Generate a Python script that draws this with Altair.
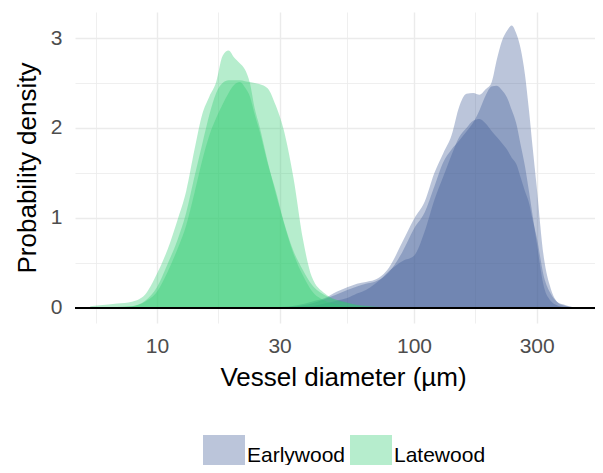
import altair as alt
import pandas as pd

# ---- Latewood densities (x in µm, density on log10 scale) ----
late_x = [5.5, 6, 7, 8, 9, 10, 11, 12, 13, 14, 15, 16, 17, 18, 19, 20, 21, 22, 23, 24, 25,
          27, 29, 31, 34, 37, 40, 45, 50, 55, 60, 70, 80]
late_1 = [0.02, 0.03, 0.05, 0.07, 0.15, 0.38, 0.65, 0.97, 1.30, 1.76, 2.15, 2.35, 2.51, 2.80, 2.86,
          2.78, 2.72, 2.65, 2.50, 2.22, 2.03, 1.62, 1.27, 0.97, 0.60, 0.36, 0.19, 0.08, 0.04, 0.02,
          0.01, 0.0, 0.0]
late_2 = [0.0, 0.005, 0.01, 0.02, 0.08, 0.23, 0.49, 0.75, 1.06, 1.46, 1.82, 2.15, 2.39, 2.50, 2.53,
          2.53, 2.53, 2.52, 2.51, 2.50, 2.49, 2.44, 2.25, 2.00, 1.44, 0.76, 0.35, 0.16, 0.09, 0.06,
          0.03, 0.01, 0.0]
late_3 = [0.0, 0.005, 0.01, 0.02, 0.07, 0.18, 0.40, 0.65, 0.92, 1.28, 1.64, 1.92, 2.11, 2.26, 2.39,
          2.48, 2.51, 2.45, 2.35, 2.15, 1.98, 1.60, 1.30, 0.98, 0.63, 0.42, 0.26, 0.14, 0.085, 0.055,
          0.035, 0.015, 0.0]

# ---- Earlywood densities ----
early_x = [30, 35, 40, 45, 50, 55, 60, 65, 70, 75, 80, 90, 100, 110, 120, 130, 140, 150, 160, 170,
           180, 190, 200, 210, 220, 230, 240, 250, 260, 270, 280, 290, 300, 320, 340, 360, 380, 400, 450]
early_1 = [0.01, 0.03, 0.07, 0.11, 0.18, 0.23, 0.27, 0.29, 0.31, 0.36, 0.45, 0.73, 0.99, 1.18, 1.50,
           1.72, 1.92, 2.24, 2.38, 2.39, 2.37, 2.43, 2.50, 2.76, 2.97, 3.08, 3.14, 3.05, 2.88, 2.60,
           2.20, 1.76, 1.35, 0.56, 0.22, 0.07, 0.03, 0.015, 0.0]
early_2 = [0.005, 0.02, 0.05, 0.10, 0.15, 0.20, 0.24, 0.27, 0.29, 0.33, 0.40, 0.62, 0.88, 1.06, 1.35,
           1.62, 1.76, 1.86, 1.96, 2.06, 2.20, 2.36, 2.46, 2.47, 2.42, 2.34, 2.20, 2.05, 1.81, 1.58,
           1.30, 1.01, 0.73, 0.24, 0.08, 0.03, 0.01, 0.0, 0.0]
early_3 = [0.0, 0.01, 0.02, 0.05, 0.08, 0.11, 0.16, 0.20, 0.26, 0.33, 0.41, 0.52, 0.58, 0.85, 1.20,
           1.46, 1.70, 1.90, 2.00, 2.08, 2.10, 2.05, 1.97, 1.90, 1.83, 1.76, 1.67, 1.60, 1.45, 1.30,
           1.17, 0.97, 0.79, 0.35, 0.16, 0.07, 0.04, 0.02, 0.0]

groups = ["Earlywood", "Latewood"]
colors = ["#3C5A96", "#2ECC71"]

x_major = [10, 30, 100, 300]
x_minor = [5.77, 17.3, 54.8, 173.2]
y_major = [0, 1, 2, 3]
y_minor = [0.5, 1.5, 2.5]

series = [
    ("E1", "Earlywood", early_x, early_1),
    ("E2", "Earlywood", early_x, early_2),
    ("E3", "Earlywood", early_x, early_3),
    ("L1", "Latewood", late_x, late_1),
    ("L2", "Latewood", late_x, late_2),
    ("L3", "Latewood", late_x, late_3),
]
rows = []
for cid, grp, xs, ys in series:
    for xv, yv in zip(xs, ys):
        rows.append({"curve": cid, "group": grp, "d": xv, "density": yv})
df = pd.DataFrame(rows)

W, H = 520, 311
x_scale = alt.Scale(type="log", domain=[4.80, 506], nice=False)
y_scale = alt.Scale(domain=[-0.167, 3.289], nice=False, zero=False)

xmaj = "[" + ",".join(str(v) for v in x_major) + "]"
ymaj = "[" + ",".join(str(v) for v in y_major) + "]"

x_axis = alt.Axis(
    values=sorted(x_major + x_minor),
    labelExpr=f"indexof({xmaj}, datum.value) >= 0 ? format(datum.value, 'd') : ''",
    gridWidth={"condition": {"test": f"indexof({xmaj}, datum.value) >= 0", "value": 1.4}, "value": 0.8},
    labelPadding=12,
    titleY=62,
    titleX=268,
    titleBaseline="alphabetic",
)
y_axis = alt.Axis(
    values=sorted(y_major + y_minor),
    labelExpr=f"indexof({ymaj}, datum.value) >= 0 ? format(datum.value, 'd') : ''",
    gridWidth={"condition": {"test": f"indexof({ymaj}, datum.value) >= 0", "value": 1.4}, "value": 0.8},
    labelPadding=13,
    titleX=-40,
    titleBaseline="alphabetic",
)

areas = alt.Chart(df).mark_area(opacity=0.35, interpolate="monotone", clip=True).encode(
    x=alt.X("d:Q", scale=x_scale, axis=x_axis, title="Vessel diameter (µm)"),
    y=alt.Y("density:Q", scale=y_scale, axis=y_axis, title="Probability density", stack=None),
    y2=alt.datum(0),
    color=alt.Color(
        "group:N",
        scale=alt.Scale(domain=groups, range=colors),
        legend=alt.Legend(
            orient="none", legendX=128, legendY=423, direction="horizontal", title=None,
            symbolType="square", symbolSize=42 * 42, symbolOpacity=0.35, symbolStrokeWidth=0,
            labelFontSize=21, labelColor="black", labelOffset=2, columnPadding=4, padding=0,
            labelLimit=300,
        ),
    ),
    detail="curve:N",
)

zero_line = alt.Chart(df).mark_rule(color="black", strokeWidth=2).encode(y=alt.datum(0))

chart = alt.layer(areas, zero_line).properties(
    width=W, height=H,
    padding={"left": 67, "top": 4, "right": 0, "bottom": 142},
    autosize=alt.AutoSizeParams(type="none"),
    background="white",
).configure(font="Liberation Sans").configure_view(stroke=None).configure_axis(
    domain=False, ticks=False, tickSize=0,
    gridColor="#EBEBEB",
    labelFontSize=21, labelColor="#4D4D4D",
    titleFontSize=26, titleColor="black", titleFontWeight="normal",
)

chart.save("out.html", embed_options={"renderer": "svg", "actions": False})
